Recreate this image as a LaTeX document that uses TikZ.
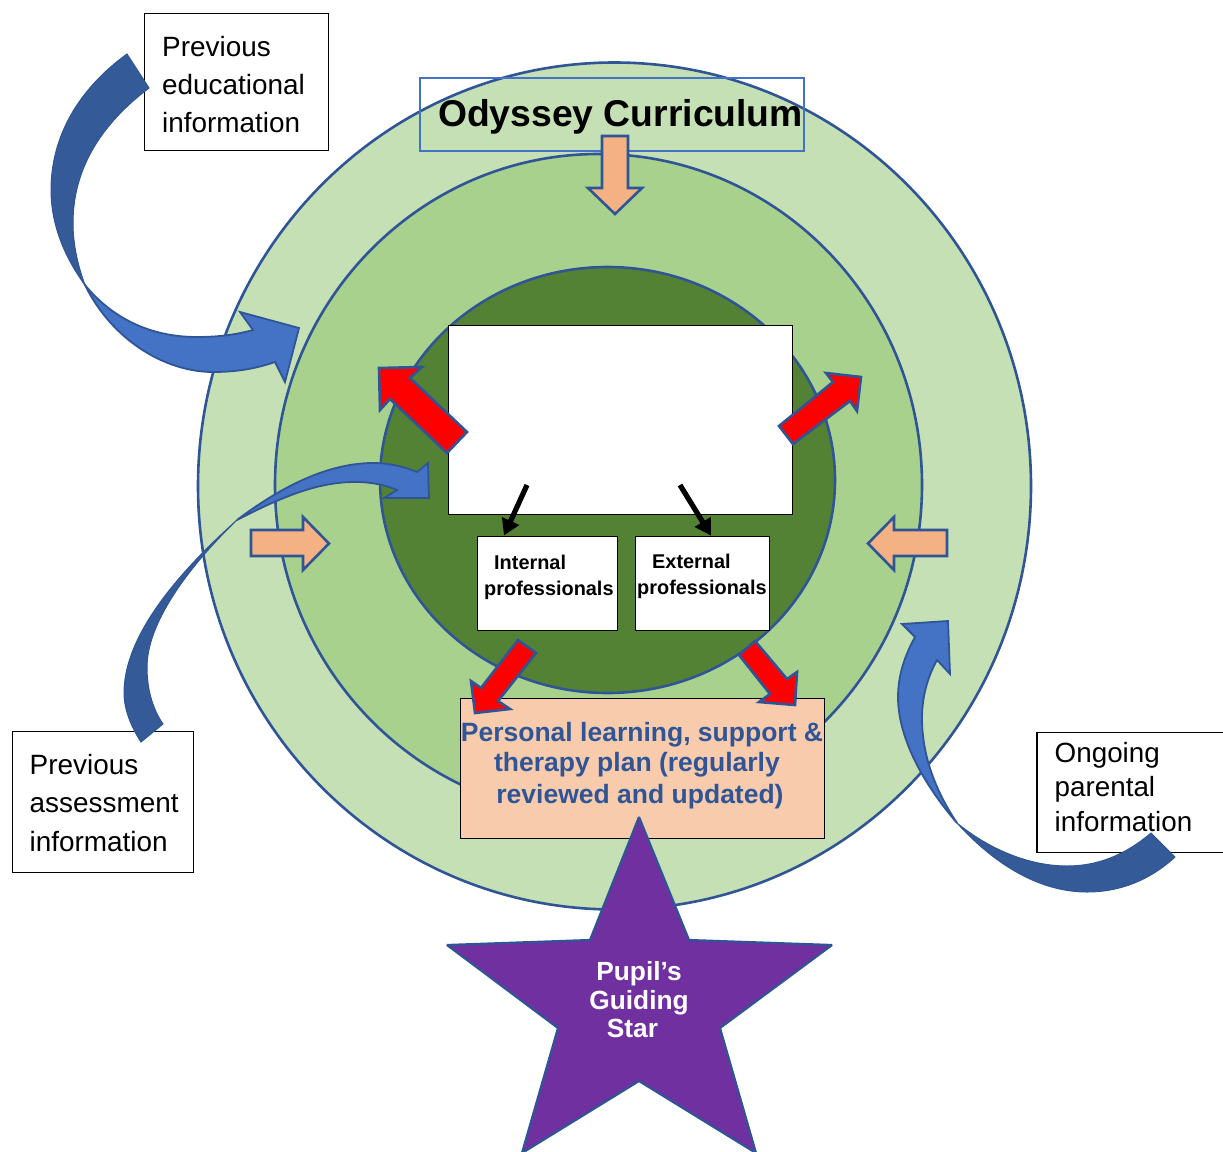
\documentclass[tikz,border=0pt]{standalone}
\usepackage{fontspec}
\setmainfont{Liberation Sans}
\usetikzlibrary{arrows.meta}
\definecolor{edge}{HTML}{2F5597}
\definecolor{ringA}{HTML}{C5E0B4}
\definecolor{ringB}{HTML}{A9D18E}
\definecolor{ringC}{HTML}{548235}
\definecolor{blueL}{HTML}{4472C4}
\definecolor{blueD}{HTML}{355A98}
\definecolor{orangeA}{HTML}{F4B183}
\definecolor{planfill}{HTML}{F7CBAC}
\definecolor{starfill}{HTML}{7030A0}
\tikzset{
  ring/.style={draw=edge,line width=2.6pt},
  box/.style={draw=black,fill=white,line width=1.4pt},
  orangearrow/.style={draw=edge,fill=orangeA,line width=2.6pt,line join=miter},
  redarrow/.style={draw=edge,fill=red,line width=2.6pt,line join=miter},
  bluelight/.style={draw=edge,fill=blueL,line width=1.8pt,line join=miter},
  bluedark/.style={draw=edge,fill=blueD,line width=1pt,line join=miter},
  boxtext/.style={inner sep=0pt,anchor=base west,font=\fontsize{27.9}{33}\selectfont,text=black},
  parenttext/.style={inner sep=0pt,anchor=base west,font=\fontsize{27.8}{33}\selectfont,text=black},
  smalltext/.style={inner sep=0pt,anchor=base west,font=\fontsize{19.9}{24}\selectfont\bfseries,text=black},
  plantext/.style={inner sep=0pt,anchor=base,font=\fontsize{26.5}{32}\selectfont\bfseries,text=edge},
  startext/.style={inner sep=0pt,anchor=base,font=\fontsize{26.3}{31}\selectfont\bfseries,text=white},
  blackarrow/.style={draw=black,line width=5.2pt,-{Triangle[length=16pt,width=18pt]}}
}
\begin{document}
\begin{tikzpicture}[x=1pt,y=-1pt]
\useasboundingbox (0,0) rectangle (1223,1151);
\clip (0,0) rectangle (1223,1151);
% rings
\path[ring,fill=ringA] (614.5,486) ellipse [x radius=416.5pt,y radius=423.5pt];
\path[ring,fill=ringB] (598.5,485) ellipse [x radius=323.5pt,y radius=331pt];
\path[ring,fill=ringC] (607.5,480) ellipse [x radius=227.5pt,y radius=213pt];
% boxes
\node[box,minimum width=344.5pt,minimum height=189.5pt,inner sep=0pt] (centre) at (620.5,420) {};
\node[box,minimum width=140.5pt,minimum height=94.5pt,inner sep=0pt] (internal) at (547.5,583.5) {};
\node[box,minimum width=134.5pt,minimum height=94.5pt,inner sep=0pt] (external) at (702.5,583.5) {};
\node[draw=black,fill=planfill,line width=1.4pt,minimum width=364.5pt,minimum height=140.5pt,inner sep=0pt] (plan) at (642.5,768.5) {};
\node[box,minimum width=184.5pt,minimum height=137.5pt,inner sep=0pt] (edu) at (236.5,82) {};
\node[box,minimum width=181.5pt,minimum height=141.5pt,inner sep=0pt] (assess) at (103,802) {};
\node[box,minimum width=200pt,minimum height=120.5pt,inner sep=0pt] (parent) at (1137,792.5) {};
\node[draw=blueL,line width=2.2pt,minimum width=383.5pt,minimum height=72.5pt,inner sep=0pt] (curr) at (612,114.5) {};
% orange arrows
\path[orangearrow] (602,136)--(628,136)--(628,188)--(642,188)--(615,214)--(588,188)--(602,188)--cycle;
\path[orangearrow] (251,530)--(303,530)--(303,517)--(329,543.5)--(303,570)--(303,556)--(251,556)--cycle;
\path[orangearrow] (947,530)--(894,530)--(894,517)--(868,543.5)--(894,570)--(894,556)--(947,556)--cycle;
% red arrows
\path[redarrow] (379,368)--(422,367)--(410,378)--(467,432)--(447,453)--(390,399)--(380,410)--cycle;
\path[redarrow] (861,377)--(826,373)--(833,382)--(779,426)--(793,444)--(850,401)--(857,411)--cycle;
\path[redarrow] (475,713)--(471,681)--(481,688)--(518,640)--(536,653)--(498,701)--(510,709)--cycle;
\path[redarrow] (795,705)--(797,672)--(787,679)--(755,641)--(739,655)--(770,694)--(759,702)--cycle;
% black connectors
\coordinate (inA) at (527,485);
\coordinate (exA) at (680,485);
\draw[blackarrow] (inA) -- (internal.north west -| 504,536);
\draw[blackarrow] (exA) -- (external.north west -| 711,535);
% blue arrow 1
\path[bluelight] (85,285) .. controls (112,340) and (165,372) .. (213,372) .. controls (235,372) and (255,369) .. (275,362) -- (285,382) -- (299,328) -- (240,312) -- (253,330) .. controls (235,335) and (217,337) .. (197,337) .. controls (150,337) and (112,318) .. (85,285) -- cycle;
\path[bluedark] (127,54) .. controls (80,88) and (51,135) .. (51,190) .. controls (51,225) and (65,258) .. (85,285) .. controls (78,266) and (73,245) .. (73,223) .. controls (73,170) and (100,125) .. (149,88) -- cycle;
% blue arrow 2
\path[bluelight] (237,520) .. controls (290,480) and (335,463) .. (373,463) .. controls (390,463) and (405,467) .. (417,472) -- (428,463) -- (429,498) -- (384,498) -- (397,490) .. controls (385,485) and (372,482) .. (355,482) .. controls (320,482) and (285,495) .. (237,520) -- cycle;
\path[bluedark] (141,742) .. controls (130,725) and (124,708) .. (124,693) .. controls (124,640) and (170,580) .. (237,520) .. controls (185,570) and (147,625) .. (147,667) .. controls (147,688) and (152,708) .. (163,724) -- cycle;
% blue arrow 3
\path[bluelight] (957,823) .. controls (920,780) and (898,735) .. (898,697) .. controls (898,675) and (905,655) .. (915,637) -- (902,624) -- (948,621) -- (950,674) -- (937,660) .. controls (927,678) and (922,698) .. (922,718) .. controls (922,755) and (935,790) .. (957,823) -- cycle;
\path[bluedark] (1175,857) .. controls (1150,880) and (1120,892) .. (1087,892) .. controls (1040,892) and (995,865) .. (957,823) .. controls (990,850) and (1030,866) .. (1067,866) .. controls (1098,866) and (1125,855) .. (1151,833) -- cycle;
% star
\path[draw=edge,fill=starfill,line width=2.2pt,line join=bevel] (639,817)--(689,940)--(832,945)--(720,1028)--(756,1153)--(639,1081)--(522,1153)--(558,1028)--(447,945)--(590,940)--cycle;
% texts
\node[inner sep=0pt,anchor=base,font=\fontsize{37.3}{44}\selectfont\bfseries] (title) at (620.5,126) {Odyssey Curriculum};
\node[boxtext] (e1) at (162,56) {Previous};
\node[boxtext] (e2) at (162,94) {educational};
\node[boxtext] (e3) at (162,132) {information};
\node[boxtext] (a1) at (29.5,774) {Previous};
\node[boxtext] (a2) at (29.5,812) {assessment};
\node[boxtext] (a3) at (29.5,851) {information};
\node[parenttext] (p1) at (1054.5,762) {Ongoing};
\node[parenttext] (p2) at (1054.5,796) {parental};
\node[parenttext] (p3) at (1054.5,831) {information};
\node[smalltext] (i1) at (494,569) {Internal};
\node[smalltext] (i2) at (484,595) {professionals};
\node[smalltext] (x1) at (652,568) {External};
\node[smalltext] (x2) at (637,594) {professionals};
\node[plantext] (l1) at (642,741) {Personal learning, support \&};
\node[plantext] (l2) at (637,771) {therapy plan (regularly};
\node[plantext] (l3) at (640,803) {reviewed and updated)};
\node[startext] (s1) at (639,980) {Pupil’s};
\node[startext] (s2) at (639,1009) {Guiding};
\node[startext] (s3) at (632.5,1037) {Star};
\end{tikzpicture}
\end{document}
